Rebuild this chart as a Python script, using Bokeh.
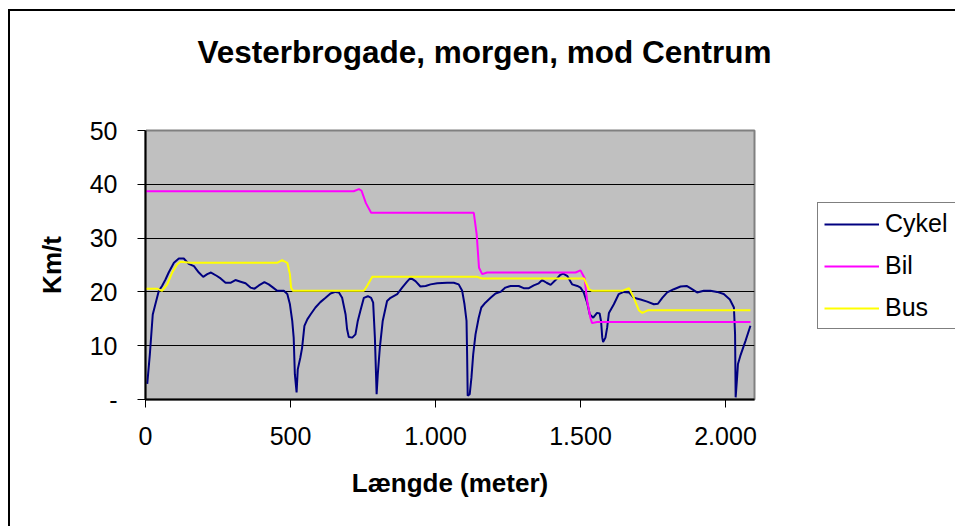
from bokeh.plotting import figure
from bokeh.models import Legend, LegendItem, FixedTicker, Range1d, Title, LinearAxis
from bokeh.embed import file_html
from bokeh.resources import INLINE

# ---------------- data ----------------
cykel_x = [6, 15, 25, 34, 46, 57, 69, 80, 98, 115, 132, 149, 167, 184, 199, 213, 226, 245,
           259, 276, 293, 310, 328, 345, 362, 376, 391, 410, 425, 440, 454, 477, 489, 498,
           506, 511, 515, 521, 525, 534, 540, 548, 558, 569, 586, 603, 621, 638, 655, 667,
           678, 690, 695, 701, 713, 724, 732, 741, 753, 767, 778, 785, 791, 797, 801, 808,
           818, 833, 845, 868, 885, 902, 914, 931, 948, 966, 983, 1006, 1040, 1063, 1080,
           1092, 1100, 1107, 1109, 1111, 1118, 1124, 1130, 1138, 1149, 1158, 1172, 1190,
           1207, 1224, 1241, 1259, 1287, 1304, 1322, 1339, 1356, 1368, 1383, 1397, 1414,
           1429, 1440, 1454, 1471, 1489, 1500, 1511, 1523, 1532, 1544, 1557, 1566, 1571,
           1575, 1578, 1586, 1592, 1598, 1615, 1632, 1649, 1667, 1684, 1707, 1730, 1753,
           1767, 1782, 1799, 1822, 1845, 1866, 1879, 1902, 1925, 1948, 1971, 1994, 2015,
           2029, 2033, 2035, 2040, 2043, 2051, 2069, 2086]
cykel_y = [2.9, 8.4, 15.8, 17.7, 20.2, 21.1, 22.3, 23.6, 25.4, 26.2, 26.2, 25.2, 24.8, 23.6,
           22.8, 23.3, 23.6, 23.0, 22.5, 21.7, 21.7, 22.2, 21.9, 21.6, 20.8, 20.6, 21.2,
           21.8, 21.4, 20.8, 20.2, 20.2, 19.6, 17.7, 14.6, 11.5, 4.7, 1.3, 5.6, 7.8, 9.6,
           13.7, 14.9, 15.8, 17.1, 18.1, 18.9, 19.7, 20.0, 19.9, 18.9, 15.8, 13.1, 11.6,
           11.5, 12.1, 14.6, 16.5, 18.9, 19.2, 18.9, 18.0, 11.5, 1.0, 4.7, 9.6, 14.6, 18.3,
           18.9, 19.6, 20.8, 21.9, 22.6, 22.0, 21.0, 21.1, 21.4, 21.6, 21.7, 21.7, 21.4,
           20.2, 17.7, 14.6, 8.4, 0.7, 1.0, 4.1, 8.4, 12.1, 15.2, 17.1, 18.0, 18.9, 19.7,
           20.0, 20.8, 21.1, 21.1, 20.7, 20.7, 21.2, 21.6, 22.2, 21.7, 21.3, 22.2, 23.1,
           23.4, 23.0, 21.4, 21.1, 20.8, 19.9, 18.0, 15.8, 15.2, 16.1, 16.0, 14.5, 11.5,
           10.7, 11.5, 13.4, 16.1, 17.7, 19.6, 20.0, 19.9, 18.9, 18.6, 18.2, 17.7, 17.8,
           18.9, 19.9, 20.5, 21.0, 21.1, 20.7, 19.9, 20.2, 20.2, 20.0, 19.6, 18.6, 17.1,
           12.1, 0.4, 4.1, 6.6, 8.1, 10.9, 13.7]

bil_x = [0, 718, 736, 745, 760, 778, 1132, 1136, 1142, 1150, 1161, 1178, 1483, 1500, 1514,
         1523, 1534, 1540, 1557, 2086]
bil_y = [38.7, 38.7, 39.1, 38.8, 36.5, 34.7, 34.7, 33.1, 30.7, 24.5, 23.3, 23.6, 23.6, 24.0,
         22.6, 18.3, 15.2, 14.2, 14.4, 14.4]

bus_x = [0, 40, 57, 75, 92, 109, 121, 155, 454, 471, 489, 498, 502, 508, 753, 764, 782,
         1144, 1161, 1512, 1529, 1540, 1644, 1667, 1684, 1701, 1713, 1734, 2086]
bus_y = [20.6, 20.6, 20.2, 21.4, 23.6, 25.1, 25.6, 25.4, 25.4, 25.9, 25.4, 23.3, 20.8, 20.2,
         20.2, 21.1, 22.8, 22.8, 22.5, 22.5, 20.5, 20.2, 20.2, 20.7, 18.9, 16.6, 16.1, 16.6,
         16.6]

series_names = ["Cykel", "Bil", "Bus"]
series_colors = ["#000080", "#FF00FF", "#FFFF00"]

y_ticks = [0, 10, 20, 30, 40, 50]
y_tick_labels = ["-", "10", "20", "30", "40", "50"]
x_ticks = [0, 500, 1000, 1500, 2000]
x_tick_labels = ["0", "500", "1.000", "1.500", "2.000"]

title_text = "Vesterbrogade, morgen, mod Centrum"
x_title = "Længde (meter)"
y_title = "Km/t"

FONT = "Liberation Sans"

# ---------------- figure ----------------
p = figure(title=None, frame_width=609, frame_height=269,
           x_range=Range1d(0, 2100), y_range=Range1d(0, 50),
           min_border_left=135, min_border_right=200,
           min_border_top=119, min_border_bottom=127,
           output_backend="svg", toolbar_location=None,
           background_fill_color="#C0C0C0", border_fill_color="white")
p.styles = {"margin-left": "8px", "margin-top": "9px",
            "border-left": "2px solid black", "border-top": "2px solid black"}

p.outline_line_color = "#808080"
p.outline_line_width = 2

xax = p.below[0]
yax = p.left[0]

# empty space between the frame and the title: a top axis whose only tick is
# white on white and has no visible label
gap_axis = LinearAxis(ticker=FixedTicker(ticks=[0]), axis_line_color=None,
                      major_tick_line_color="white", minor_tick_line_color=None,
                      major_tick_in=0, major_tick_out=61, minor_tick_out=0,
                      major_label_standoff=0, major_label_overrides={0: ""},
                      major_label_text_font_size="1px", major_label_text_color="white")
p.add_layout(gap_axis, "above")

# title
title = Title(text=title_text, align="left", offset=52, standoff=0,
              text_font=FONT, text_font_style="bold", text_font_size="31.5px",
              text_color="black")
p.add_layout(title, "above")

# axes
for ax in (xax, yax):
    ax.axis_line_color = "black"
    ax.axis_line_width = 2
    ax.major_tick_line_color = "black"
    ax.major_tick_in = 0
    ax.major_tick_out = 8
    ax.minor_tick_line_color = None
    ax.major_label_text_font = FONT
    ax.major_label_text_font_size = "25px"
    ax.major_label_text_color = "black"
    ax.axis_label_text_font = FONT
    ax.axis_label_text_font_style = "bold"
    ax.axis_label_text_font_size = "26px"
    ax.axis_label_text_color = "black"

xax.ticker = FixedTicker(ticks=x_ticks)
xax.major_label_overrides = dict(zip(x_ticks, x_tick_labels))
xax.major_label_standoff = 19
xax.axis_label = x_title
xax.axis_label_standoff = 20

yax.ticker = FixedTicker(ticks=y_ticks)
yax.major_label_overrides = dict(zip(y_ticks, y_tick_labels))
yax.major_label_standoff = 20
yax.axis_label = y_title
yax.axis_label_standoff = 20

p.xgrid.visible = False
p.ygrid.ticker = FixedTicker(ticks=y_ticks[1:-1])
p.ygrid.grid_line_color = "black"
p.ygrid.grid_line_width = 1

# series
r_cykel = p.line(cykel_x, cykel_y, line_color=series_colors[0], line_width=2)
r_bil = p.line(bil_x, bil_y, line_color=series_colors[1], line_width=2)
r_bus = p.line(bus_x, bus_y, line_color=series_colors[2], line_width=2)

legend = Legend(items=[LegendItem(label=series_names[0], renderers=[r_cykel]),
                       LegendItem(label=series_names[1], renderers=[r_bil]),
                       LegendItem(label=series_names[2], renderers=[r_bus])],
                location=(63, 70))
legend.border_line_color = "black"
legend.border_line_width = 1
legend.background_fill_color = "white"
legend.background_fill_alpha = 1
legend.label_text_font = FONT
legend.label_text_font_size = "25px"
legend.label_text_color = "black"
legend.glyph_width = 55
legend.glyph_height = 22
legend.label_height = 22
legend.label_width = 125
legend.spacing = 13
legend.padding = 6
legend.label_standoff = 6
legend.margin = 0
p.add_layout(legend, "right")

open("out.html", "w").write(file_html(p, INLINE))
